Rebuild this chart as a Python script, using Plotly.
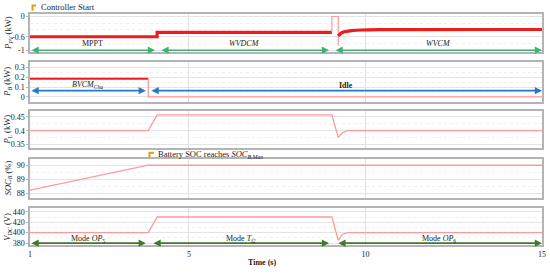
import plotly.graph_objects as go
from plotly.subplots import make_subplots

# ---------------- data ----------------
# P_PV (kW)
ppv_t1 = [0.5, 4.1, 4.1, 9.05]
ppv_v1 = [-0.6, -0.6, -0.47, -0.47]
ppv_spike_t = [9.05, 9.05, 9.23, 9.23]
ppv_spike_v = [-0.47, 0.0, 0.0, -0.87]
ppv_t2 = [9.23, 9.3, 9.4, 9.6, 9.9, 10.5, 15]
ppv_v2 = [-0.58, -0.5, -0.45, -0.42, -0.40, -0.39, -0.385]

# P_B (kW)
pb_t1 = [0.5, 3.85]
pb_v1 = [0.185, 0.185]
pb_t2 = [3.85, 3.85, 15]
pb_v2 = [0.185, 0.0, 0.0]

# P_L (kW)
pl_t = [0.5, 3.85, 4.1, 9.05, 9.23, 9.35, 9.5, 15]
pl_v = [0.4, 0.4, 0.457, 0.457, 0.376, 0.393, 0.4, 0.4]

# SOC_B (%)
soc_t = [0.5, 3.85, 15]
soc_v = [88.22, 90.0, 90.0]

# V_DC (V)
vdc_t = [0.5, 3.85, 4.1, 9.05, 9.23, 9.35, 9.5, 15]
vdc_v = [400, 400, 430, 430, 385, 397, 400, 400]

# mode arrows (start, end, label, label y)
ppv_modes = [(0.5, 4.04, "MPPT", -0.8), (4.18, 8.97, "<i>WVDCM</i>", -0.8), (9.11, 15, "<i>WVCM</i>", -0.8)]
pb_modes = [(0.5, 3.78, "<i>BVCM</i><sub><i>Cha</i></sub>", 0.118), (3.9, 15, "<b>Idle</b>", 0.112)]
vdc_modes = [(0.5, 3.78, "Mode <i>OP</i><sub>5</sub>", 387.5), (3.955, 8.97, "Mode <i>T</i><sub><i>f2</i></sub>", 387.5),
             (9.19, 15, "Mode <i>OP</i><sub>6</sub>", 387.5)]

x_ticks = [0.5, 5, 10, 15]
x_tick_text = ["1", "5", "10", "15"]

# ---------------- figure ----------------
W, H = 550, 273
ML, MR = 30, 8
RED = "#ee1c1c"
PINK = "#ff9a9a"
FONT = "Liberation Serif"

fig = make_subplots(rows=5, cols=1, shared_xaxes=True)

def py(p):
    return 1 - p / H

def px(p):
    return (p - ML) / (W - ML - MR)

domains = [(13, 52), (62, 102), (112, 149), (160, 200), (210, 248)]
yranges = [[-1.06, 0.08], [-0.047, 0.353], [0.338, 0.47], [87.65, 90.47], [375.5, 447.5]]
ytickv = [[0, -0.6, -1], [0, 0.1, 0.2, 0.3], [0.35, 0.4, 0.45], [88, 89, 90], [380, 400, 420, 440]]
ytickt = [["0", "-0.6", "-1"], ["0", "0.1", "0.2", "0.3"], ["0.35", "0.4", "0.45"], ["88", "89", "90"],
          ["380", "400", "420", "440"]]
minor_dt = [0.2, 0.05, 0.025, 0.5, 10]
ylabels = ["<i>P</i><sub><i>PV</i></sub> (kW)", "<i>P</i><sub><i>B</i></sub> (kW)", "<i>P</i><sub><i>L</i></sub> (kW)",
           "<i>SOC</i><sub><i>B</i></sub> (%)", "<i>V</i><sub><i>DC</i></sub> (V)"]

# traces
fig.add_trace(go.Scatter(x=ppv_t1, y=ppv_v1, mode="lines", line=dict(color=RED, width=3.2)), row=1, col=1)
fig.add_trace(go.Scatter(x=ppv_spike_t, y=ppv_spike_v, mode="lines", line=dict(color=PINK, width=1.2)), row=1, col=1)
fig.add_trace(go.Scatter(x=ppv_t2, y=ppv_v2, mode="lines", line=dict(color=RED, width=3.2, shape="spline")), row=1, col=1)
fig.add_trace(go.Scatter(x=pb_t1, y=pb_v1, mode="lines", line=dict(color=RED, width=2)), row=2, col=1)
fig.add_trace(go.Scatter(x=pb_t2, y=pb_v2, mode="lines", line=dict(color=PINK, width=1.3)), row=2, col=1)
fig.add_trace(go.Scatter(x=pl_t, y=pl_v, mode="lines", line=dict(color=PINK, width=1.3)), row=3, col=1)
fig.add_trace(go.Scatter(x=soc_t, y=soc_v, mode="lines", line=dict(color=PINK, width=1.3)), row=4, col=1)
fig.add_trace(go.Scatter(x=vdc_t, y=vdc_v, mode="lines", line=dict(color=PINK, width=1.3)), row=5, col=1)

annotations = []
for i in range(5):
    n = "" if i == 0 else str(i + 1)
    top, bot = domains[i]
    fig.layout["yaxis" + n].update(
        domain=[py(bot), py(top)], range=yranges[i], tickvals=ytickv[i], ticktext=ytickt[i],
        showgrid=True, gridcolor="#e4e4e4", gridwidth=1, zeroline=False,
        minor=dict(dtick=minor_dt[i], showgrid=True, gridcolor="#efefef", griddash="dot"),
        showline=True, mirror=True, linecolor="#b4b4b4", linewidth=1.5,
        ticks="outside", ticklen=2, tickcolor="#b4b4b4",
        tickfont=dict(family=FONT, size=8, color="#222"),
    )
    fig.layout["xaxis" + n].update(
        range=[0.5, 15], tickvals=x_ticks, ticktext=x_tick_text,
        showgrid=True, gridcolor="#e0e0e0", gridwidth=1, zeroline=False,
        showline=True, mirror=True, linecolor="#b4b4b4", linewidth=1.5,
        showticklabels=(i == 4), ticks="", ticklabeloverflow="allow",
        tickfont=dict(family=FONT, size=8, color="#222"),
    )
    annotations.append(dict(xref="paper", yref="paper", x=px(8), y=py((top + bot) / 2), text=ylabels[i],
                            textangle=-90, showarrow=False, xanchor="center", yanchor="middle",
                            font=dict(family=FONT, size=8.5, color="#222")))

def add_modes(modes, axn, yarrow, color):
    for x0, x1, label, ylab in modes:
        annotations.append(dict(xref="x" + axn, yref="y" + axn, axref="x" + axn, ayref="y" + axn,
                                x=x1, y=yarrow, ax=x0, ay=yarrow, text="", showarrow=True,
                                arrowhead=2, startarrowhead=2, arrowside="end+start",
                                arrowsize=0.9, startarrowsize=0.9, arrowwidth=1.6, arrowcolor=color,
                                standoff=0, startstandoff=0))
        annotations.append(dict(xref="x" + axn, yref="y" + axn, x=(x0 + x1) / 2, y=ylab, text=label,
                                showarrow=False, xanchor="center", yanchor="middle",
                                font=dict(family=FONT, size=8, color="#222")))

add_modes(ppv_modes, "", -1.0, "#3cb371")
add_modes(pb_modes, "2", 0.063, "#2a78c8")
add_modes(vdc_modes, "5", 379.8, "#3d7a2a")

# event annotations
annotations.append(dict(xref="paper", yref="paper", x=px(39), y=py(6.5), text="Controller Start",
                        showarrow=False, xanchor="left", yanchor="middle",
                        font=dict(family=FONT, size=8.5, color="#222")))
annotations.append(dict(xref="paper", yref="paper", x=px(156), y=py(155.5),
                        text="Battery SOC reaches <i>SOC</i><sub><i>B,Max</i></sub>",
                        showarrow=False, xanchor="left", yanchor="middle",
                        font=dict(family=FONT, size=8.5, color="#222")))
annotations.append(dict(xref="paper", yref="paper", x=px(262), y=py(265), text="<b>Time (s)</b>",
                        showarrow=False, xanchor="center", yanchor="middle",
                        font=dict(family=FONT, size=8, color="#222")))

shapes = [
    dict(type="path", xref="paper", yref="paper",
         path=f"M {px(36)},{py(4.5)} L {px(32.5)},{py(4.5)} L {px(32.5)},{py(10)}",
         line=dict(color="#d9a21b", width=2)),
    dict(type="path", xref="paper", yref="paper",
         path=f"M {px(154)},{py(154)} L {px(149.5)},{py(154)} L {px(149.5)},{py(159.5)}",
         line=dict(color="#d9a21b", width=2)),
]

fig.update_layout(
    width=W, height=H, margin=dict(l=ML, r=MR, t=0, b=0),
    paper_bgcolor="white", plot_bgcolor="white", showlegend=False,
    annotations=annotations, shapes=shapes,
    font=dict(family=FONT, size=8, color="#222"),
)

fig.write_html("out.html", config={"displayModeBar": False},
               post_script="document.body.style.margin='0';document.body.style.overflow='hidden';")
